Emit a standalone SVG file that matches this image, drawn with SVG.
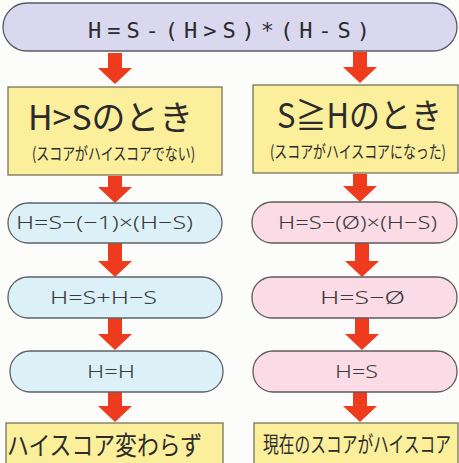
<svg xmlns="http://www.w3.org/2000/svg" width="459" height="463" viewBox="0 0 459 463">
<style>
.bg{fill:#fcfcfb}
.top{fill:#dad8ee;stroke:#5a5a66;stroke-width:1.3}
.yel{fill:#fbef9c;stroke:#77745a;stroke-width:1.3}
.blu{fill:#dbf1f7;stroke:#5d6266;stroke-width:1.3}
.pnk{fill:#fadbe6;stroke:#5d5a5e;stroke-width:1.3}
.arr{fill:#ef3b1d}
.t{fill:#2b2b2b;font-family:"Noto Sans CJK JP","Noto Sans",sans-serif}
.f{fill:#3a3a3a;font-family:"Noto Sans","Noto Sans CJK JP",sans-serif;font-weight:300;font-size:19px}
.mono{fill:#2b2b2b;font-family:"DejaVu Sans Mono",monospace;font-size:22px}
</style>
<rect class="bg" x="0" y="0" width="459" height="463"/>
<g id="connectors">
<polygon class="arr" points="108,53 122,53 122,68 132,68 115,84 98,68 108,68"/>
<polygon class="arr" points="353,52 367,52 367,67 377,67 360,83 343,67 353,67"/>
<polygon class="arr" points="108,176 122,176 122,187 132,187 115,203 98,187 108,187"/>
<polygon class="arr" points="353,174 367,174 367,186 377,186 360,202 343,186 353,186"/>
<polygon class="arr" points="108,243 122,243 122,261 132,261 115,277 98,261 108,261"/>
<polygon class="arr" points="355,243 369,243 369,261 379,261 362,277 345,261 355,261"/>
<polygon class="arr" points="108,318 122,318 122,334 132,334 115,350 98,334 108,334"/>
<polygon class="arr" points="355,318 369,318 369,334 379,334 362,350 345,334 355,334"/>
<polygon class="arr" points="108,392 122,392 122,406 132,406 115,422 98,406 108,406"/>
<polygon class="arr" points="353,392 367,392 367,406 377,406 360,422 343,406 353,406"/>
</g>
<g id="formula">
<rect class="top" x="3" y="3" width="454" height="48" rx="24"/>
<text class="mono" x="88" y="38" textLength="282" lengthAdjust="spacing">H=S-(H&gt;S)*(H-S)</text>
</g>
<g id="caseHS">
<rect class="yel" x="8" y="87" width="214" height="88"/>
<text class="t" x="28" y="130" font-size="34" textLength="165" lengthAdjust="spacingAndGlyphs">H&gt;Sのとき</text>
<text class="t" x="32" y="160" font-size="17" textLength="163" lengthAdjust="spacingAndGlyphs">(スコアがハイスコアでない)</text>
</g>
<g id="caseSH">
<rect class="yel" x="253" y="85" width="205" height="88"/>
<text class="t" x="277" y="128" font-size="34" textLength="165" lengthAdjust="spacingAndGlyphs">S≧Hのとき</text>
<text class="t" x="270" y="158" font-size="17" textLength="176" lengthAdjust="spacingAndGlyphs">(スコアがハイスコアになった)</text>
</g>
<g id="L1">
<rect class="blu" x="8" y="203" width="214" height="40" rx="20"/>
<text class="f" x="16" y="229" textLength="177" lengthAdjust="spacingAndGlyphs">H=S−(−1)×(H−S)</text>
</g>
<g id="R1">
<rect class="pnk" x="252" y="202" width="205" height="41" rx="20"/>
<text class="f" x="278" y="229" textLength="159" lengthAdjust="spacingAndGlyphs">H=S−(Ø)×(H−S)</text>
</g>
<g id="L2">
<rect class="blu" x="8" y="277" width="214" height="41" rx="20"/>
<text class="f" x="50" y="304" textLength="107" lengthAdjust="spacingAndGlyphs">H=S+H−S</text>
</g>
<g id="R2">
<rect class="pnk" x="252" y="277" width="205" height="41" rx="20"/>
<text class="f" x="320" y="304" textLength="85" lengthAdjust="spacingAndGlyphs">H=S−Ø</text>
</g>
<g id="L3">
<rect class="blu" x="10" y="351" width="213" height="41" rx="20"/>
<text class="f" x="87" y="378" textLength="48" lengthAdjust="spacingAndGlyphs">H=H</text>
</g>
<g id="R3">
<rect class="pnk" x="253" y="351" width="204" height="41" rx="20"/>
<text class="f" x="335" y="378" textLength="43" lengthAdjust="spacingAndGlyphs">H=S</text>
</g>
<g id="resultL">
<rect class="yel" x="6" y="423" width="217" height="50"/>
<text class="t" x="7" y="455" font-size="26" textLength="195" lengthAdjust="spacingAndGlyphs">ハイスコア変わらず</text>
</g>
<g id="resultR">
<rect class="yel" x="254" y="423" width="204" height="50"/>
<text class="t" x="263" y="452" font-size="22" textLength="188" lengthAdjust="spacingAndGlyphs">現在のスコアがハイスコア</text>
</g>
</svg>
